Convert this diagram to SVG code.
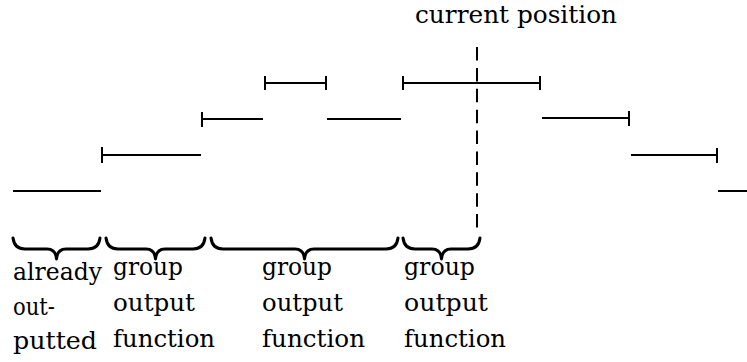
<svg xmlns="http://www.w3.org/2000/svg" width="747" height="362" viewBox="0 0 747 362">
<style>
.seg{stroke:#000;stroke-width:2;fill:none}
.brace{stroke:#000;stroke-width:3;fill:none;stroke-linejoin:round;stroke-linecap:round}
.dash{stroke:#000;stroke-width:2;stroke-dasharray:13.5 7.375}
.t{font-family:"DejaVu Serif","Liberation Serif","Times New Roman",serif;font-size:25px;fill:#000}
</style>
<rect width="747" height="362" fill="#fff"/>
<g id="segments">
<path class="seg" d="M13 191H101"/>
<path class="seg" d="M102 155H201M102 147V163"/>
<path class="seg" d="M202 119H263M202 112V127"/>
<path class="seg" d="M265 83H326M265 76V90M326 76V90"/>
<path class="seg" d="M327 119H401"/>
<path class="seg" d="M403 83H540M403 76V90M540 76V90"/>
<path class="seg" d="M542 118H629M629 111V126"/>
<path class="seg" d="M631 155H717M717 148V163"/>
<path class="seg" d="M718 191H747"/>
</g>
<g id="current-position">
<line class="dash" x1="477" y1="47" x2="477" y2="228"/>
<text class="t" x="415" y="23" textLength="202" lengthAdjust="spacingAndGlyphs">current position</text>
</g>
<g id="braces">
<path class="brace" d="M13 238C14 246 18 249 25 249L47 249C53 249 56 252 56.5 259C57 252 60 249 66 249L88 249C95 249 99 246 100 238"/>
<path class="brace" d="M106 238C107 246 111 249 118 249L146 249C152 249 155 252 155.5 259C156 252 159 249 165 249L193 249C200 249 204 246 205 238"/>
<path class="brace" d="M211 238C212 246 216 249 223 249L295 249C301 249 304 252 304.5 259C305 252 308 249 314 249L386 249C393 249 397 246 398 238"/>
<path class="brace" d="M403 238C404 246 408 249 415 249L432 249C438 249 441 252 441.5 259C442 252 445 249 451 249L468 249C475 249 479 246 480 238"/>
</g>
<g id="label-already">
<text class="t" x="13" y="280" textLength="89" lengthAdjust="spacingAndGlyphs">already</text>
<text class="t" x="13" y="315" textLength="42" lengthAdjust="spacingAndGlyphs">out-</text>
<text class="t" x="13" y="349" textLength="84" lengthAdjust="spacingAndGlyphs">putted</text>
</g>
<g id="label-group1">
<text class="t" x="113" y="275" textLength="70" lengthAdjust="spacingAndGlyphs">group</text>
<text class="t" x="113" y="311" textLength="82" lengthAdjust="spacingAndGlyphs">output</text>
<text class="t" x="113" y="347" textLength="102" lengthAdjust="spacingAndGlyphs">function</text>
</g>
<g id="label-group2">
<text class="t" x="262" y="275" textLength="70" lengthAdjust="spacingAndGlyphs">group</text>
<text class="t" x="262" y="311" textLength="81" lengthAdjust="spacingAndGlyphs">output</text>
<text class="t" x="262" y="347" textLength="103" lengthAdjust="spacingAndGlyphs">function</text>
</g>
<g id="label-group3">
<text class="t" x="404" y="275" textLength="71" lengthAdjust="spacingAndGlyphs">group</text>
<text class="t" x="404" y="311" textLength="84" lengthAdjust="spacingAndGlyphs">output</text>
<text class="t" x="404" y="347" textLength="102" lengthAdjust="spacingAndGlyphs">function</text>
</g>
</svg>
